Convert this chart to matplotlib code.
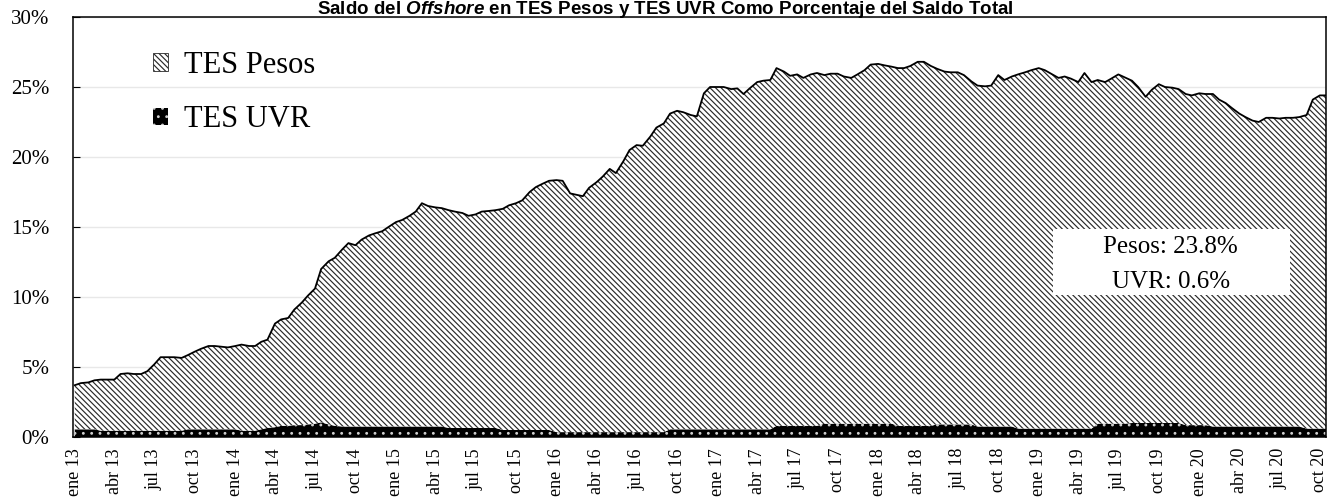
import numpy as np
import pandas as pd
import matplotlib
matplotlib.use("Agg")
import matplotlib.pyplot as plt
from matplotlib.patches import Patch, Rectangle

plt.rcParams["hatch.linewidth"] = 0.85
plt.rcParams["mathtext.fontset"] = "custom"
plt.rcParams["mathtext.it"] = "Liberation Sans:italic:bold"
plt.rcParams["mathtext.rm"] = "Liberation Sans:bold"

# Saldo offshore como % del saldo total (datos quincenales)
fechas = pd.date_range("2013-01-01", "2020-10-15", freq="SMS")

tes_uvr = ([0.55] * 4 + [0.45] * 13 + [0.55] * 8 + [0.45] * 3 +
           [0.55, 0.65, 0.7, 0.8, 0.8, 0.85, 0.85, 0.9, 0.95, 1.05, 0.9, 0.8] +
           [0.75] * 16 + [0.65] * 8 + [0.5] * 8 + [0.35] * 17 + [0.55] * 16 +
           [0.8] * 7 + [0.95] * 11 + [0.8] * 6 + [0.9] * 6 + [0.75] * 6 +
           [0.6] * 12 + [0.95] * 5 + [1.0] * 8 + [0.85] * 4 + [0.75] * 14 +
           [0.6] * 4)

tes_pesos = [
    3.15, 3.3, 3.35, 3.5, 3.65, 3.65, 3.65, 4.05, 4.1, 4.05, 4.05, 4.25,
    4.75, 5.25, 5.25, 5.25, 5.2, 5.3, 5.55, 5.75, 5.95, 5.95, 5.9, 5.85,
    5.95, 6.15, 6.05, 6.05, 6.25, 6.3, 7.4, 7.6, 7.7, 8.25, 8.75, 9.2,
    9.65, 10.95, 11.65, 12.0, 12.65, 13.1, 12.95, 13.35, 13.65, 13.8, 13.95, 14.25,
    14.6, 14.75, 15.05, 15.35, 15.95, 15.75, 15.65, 15.6, 15.55, 15.45, 15.35, 15.15,
    15.25, 15.45, 15.5, 15.55, 15.8, 16.05, 16.2, 16.4, 17.0, 17.35, 17.6, 17.8,
    18.0, 17.95, 17.05, 16.95, 16.85, 17.45, 17.85, 18.25, 18.8, 18.5, 19.35, 20.15,
    20.5, 20.45, 21.1, 21.75, 22.05, 22.55, 22.75, 22.65, 22.45, 22.35, 24.0, 24.45,
    24.45, 24.45, 24.3, 24.35, 23.95, 24.35, 24.8, 24.9, 24.95, 25.55, 25.3, 25.0,
    25.1, 24.85, 25.1, 25.2, 24.9, 25.0, 25.0, 24.8, 24.7, 24.95, 25.25, 25.65,
    25.7, 25.6, 25.5, 25.55, 25.55, 25.7, 26.0, 26.0, 25.7, 25.4, 25.2, 25.15,
    25.15, 24.95, 24.5, 24.35, 24.3, 24.35, 25.1, 24.75, 25.0, 25.3, 25.45, 25.6,
    25.75, 25.6, 25.3, 25.05, 25.15, 25.0, 24.75, 25.4, 24.75, 24.55, 24.4, 24.65,
    24.95, 24.75, 24.45, 24.0, 23.3, 23.8, 24.2, 24.0, 23.95, 23.85, 23.65, 23.55,
    23.7, 23.65, 23.75, 23.35, 23.1, 22.75, 22.35, 22.1, 21.85, 21.75, 22.05, 22.05,
    22.0, 22.05, 22.05, 22.1, 22.4, 23.5, 23.8, 23.8,
]

ticks = pd.date_range("2013-01-01", "2020-10-01", freq="QS")
meses = {1: "ene", 4: "abr", 7: "jul", 10: "oct"}
tick_labels = [f"{meses[t.month]} {t.strftime('%y')}" for t in ticks]

uvr = np.array(tes_uvr)
pesos = np.array(tes_pesos)
total = uvr + pesos

rayado = "\\" * 6
puntos = ".."

fig = plt.figure(figsize=(13.31, 4.97), dpi=100)
ax = fig.add_axes([73 / 1331, 1 - 437 / 497, 1253 / 1331, 420 / 497])

ax.fill_between(fechas, 0, uvr, facecolor="black", edgecolor="#cfcfcf",
                hatch=puntos, linewidth=0, zorder=2)
ax.fill_between(fechas, uvr, total, facecolor="white", edgecolor="#2a2a2a",
                hatch=rayado, linewidth=0, zorder=2)
ax.plot(fechas, total, color="black", linewidth=1.3, zorder=3)

ax.set_ylim(0, 30)
ax.set_yticks(range(0, 31, 5))
ax.set_yticklabels([f"{v}%" for v in range(0, 31, 5)], family="Liberation Serif",
                   fontsize=15)
ax.set_xlim(pd.Timestamp("2012-12-28"), pd.Timestamp("2020-10-15"))
ax.set_xticks(ticks)
ax.set_xticklabels(tick_labels, rotation=90, family="Liberation Serif", fontsize=13)
ax.tick_params(axis="x", length=0, pad=8)
ax.tick_params(axis="y", direction="in", length=5, pad=17)
ax.grid(axis="y", color="#e8e8e8", linewidth=1.0)
ax.set_axisbelow(True)
for s in ax.spines.values():
    s.set_linewidth(1.1)

handles = [
    Patch(facecolor="white", edgecolor="#2a2a2a", hatch=rayado, linewidth=0.6),
    Patch(facecolor="black", edgecolor="#cfcfcf", hatch=puntos, linewidth=0),
]
ax.legend(handles, ["TES Pesos", "TES UVR"], loc="upper left",
          bbox_to_anchor=(0.042, 0.985), frameon=False,
          prop={"family": "Liberation Serif", "size": 22},
          handlelength=0.5, handleheight=0.5, handletextpad=0.5,
          labelspacing=0.83)

# recuadro con el dato más reciente
ax.add_patch(Rectangle((0.782, 0.338), 0.189, 0.157, transform=ax.transAxes,
                       facecolor="white", edgecolor="none", zorder=4))
ax.text(0.876, 0.452, f"Pesos: {tes_pesos[-1]}%", transform=ax.transAxes,
        ha="center", va="center", family="Liberation Serif", fontsize=18, zorder=5)
ax.text(0.876, 0.37, f"UVR: {tes_uvr[-1]}%", transform=ax.transAxes,
        ha="center", va="center", family="Liberation Serif", fontsize=18, zorder=5)

fig.text(0.5, 1 - 14 / 497,
         r"Saldo del $\it{Offshore}$ en TES Pesos y TES UVR Como Porcentaje del Saldo Total",
         ha="center", va="baseline", family="Liberation Sans", fontweight="bold",
         fontsize=13.5)

fig.savefig("out.png", dpi=100)
